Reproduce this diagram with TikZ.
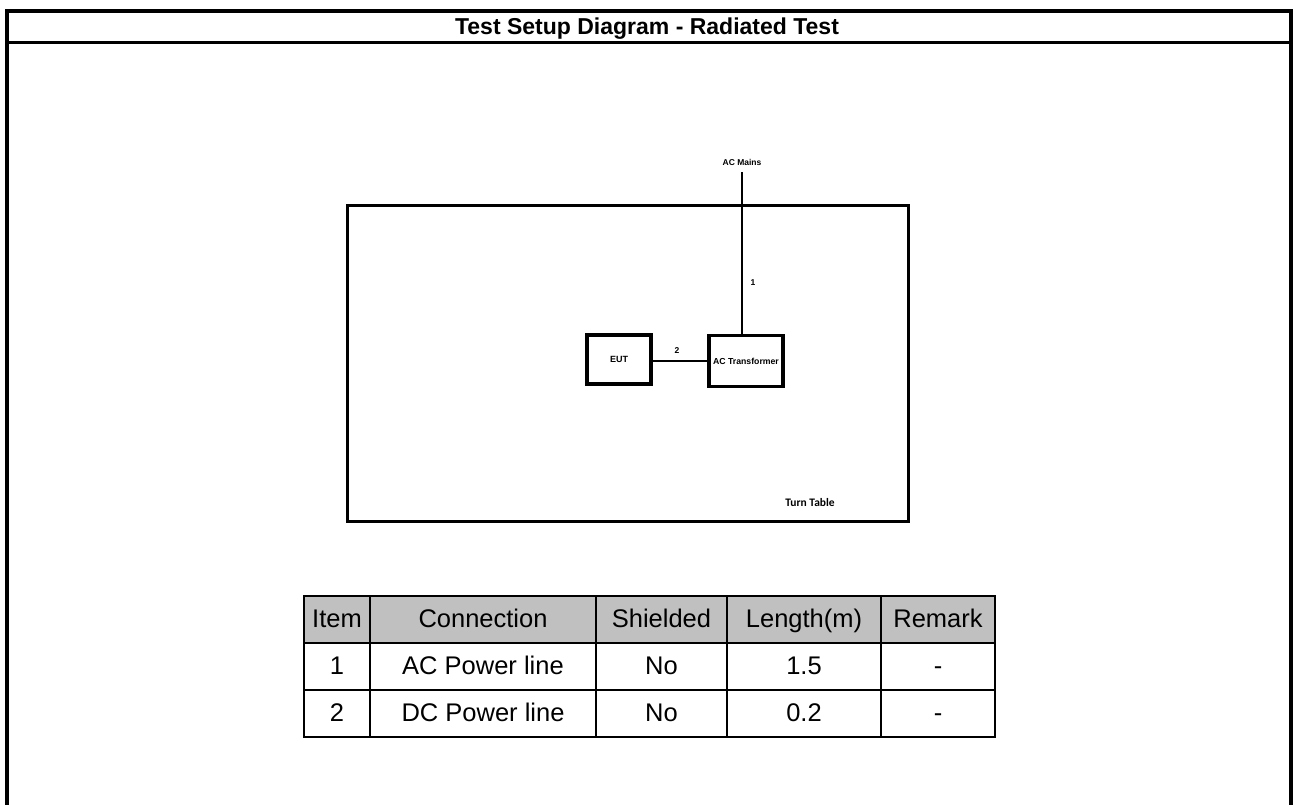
\documentclass[tikz,border=0pt]{standalone}
\usepackage{fontspec}
\setmainfont{Liberation Sans}
\newfontfamily\calfont{Carlito}
\usepackage{tikz}
\usetikzlibrary{calc}
\usetikzlibrary{positioning}

\definecolor{headgray}{RGB}{192,192,192}

\tikzset{
  frameline/.style={line width=4pt, line cap=rect},
  unitbox/.style={rectangle, draw=black, line width=3.5pt, inner sep=0pt},
  cable/.style={line width=1.5pt, draw=black},
  tiny/.style={font=\fontsize{8.5}{9}\selectfont\bfseries, inner sep=1pt},
  cell/.style={rectangle, draw=black, line width=2.5pt, inner sep=0pt,
    minimum height=47pt, text height=18.5pt, text depth=3pt,
    font=\fontsize{25.5}{30}\selectfont},
  headcell/.style={cell, fill=headgray}
}

\begin{document}
\begin{tikzpicture}[x=1pt, y=-1pt]
\useasboundingbox (0,0) rectangle (1295,805);

% outer frame and title bar
\draw [frameline] (7,805) -- (7,11) -- (1291,11) -- (1291,805);
\draw [line width=3pt] (7,43) -- (1291,43);
\node (title) at (647,29) {\fontsize{23}{26}\selectfont\bfseries Test Setup Diagram - Radiated Test};

% turn table with the units on it
\node [rectangle, draw=black, line width=3pt, minimum width=561pt, minimum height=315pt] (turntable) at (627.5,363.5) {};
\node [font=\fontsize{11.5}{13}\selectfont\calfont\bfseries] (ttlabel) at (810,503) {Turn Table};
\node [unitbox, minimum width=64pt, minimum height=49pt] (EUT) at (619,359.5) {\fontsize{9}{9}\selectfont\bfseries EUT};
\node [unitbox, minimum width=74pt, minimum height=51pt] (ACT) at (746,361) {\fontsize{8.7}{9}\selectfont\bfseries AC Transformer};
\node [tiny] (mains) at (742,162) {AC Mains};
\coordinate (acin) at (742,336);

\draw [cable, shorten <=6pt] (mains.south) to (acin);
\draw [cable] (ACT.west) to (ACT.west -| EUT.east);
\node [tiny] (n1) at (753,283) {1};
\node [tiny] (n2) at (677,351) {2};

% cable list
\node [headcell, minimum width=66pt] (hitem) at (337,619.5) {Item};
\node [headcell, minimum width=226pt] (hconn) at (483,619.5) {Connection};
\node [headcell, minimum width=131pt] (hshld) at (661.5,619.5) {Shielded};
\node [headcell, minimum width=154pt] (hlen) at (804,619.5) {Length(m)};
\node [headcell, minimum width=114pt] (hrem) at (938,619.5) {Remark};

\node [cell, minimum width=66pt] (item1) at (337,666.5) {1};
\node [cell, minimum width=226pt] (conn1) at (483,666.5) {AC Power line};
\node [cell, minimum width=131pt] (shld1) at (661.5,666.5) {No};
\node [cell, minimum width=154pt] (len1) at (804,666.5) {1.5};
\node [cell, minimum width=114pt] (rem1) at (938,666.5) {-};

\node [cell, minimum width=66pt] (item2) at (337,713.5) {2};
\node [cell, minimum width=226pt] (conn2) at (483,713.5) {DC Power line};
\node [cell, minimum width=131pt] (shld2) at (661.5,713.5) {No};
\node [cell, minimum width=154pt] (len2) at (804,713.5) {0.2};
\node [cell, minimum width=114pt] (rem2) at (938,713.5) {-};
\end{tikzpicture}
\end{document}
